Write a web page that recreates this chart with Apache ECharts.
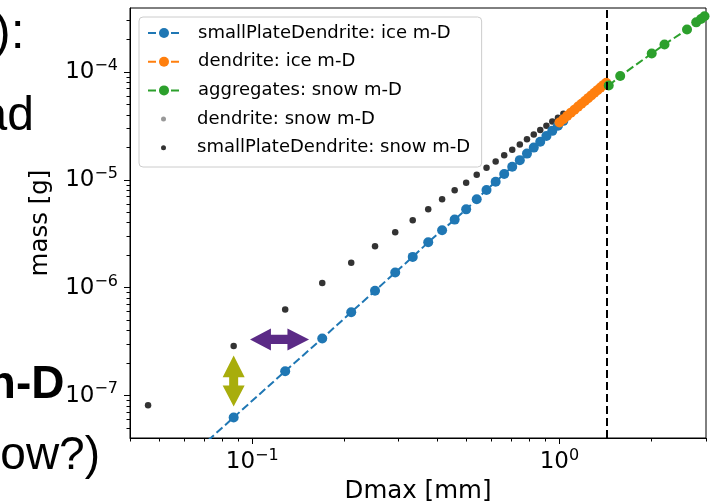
<!DOCTYPE html>
<html>
<head>
<meta charset="utf-8">
<title>m-D</title>
<script src="https://cdn.jsdelivr.net/npm/echarts@6.0.0/dist/echarts.min.js"></script>
<style>
  html, body { margin: 0; padding: 0; background: #fff; }
  #main { width: 712px; height: 502px; background: #fff; }
</style>
</head>
<body>
<div id="main"></div>
<script>
// Dmax [mm] grid shared by the smallPlateDendrite curves
var dGrid = [0.0458, 0.087, 0.128, 0.169, 0.210, 0.251, 0.292, 0.333, 0.374, 0.415, 0.456, 0.497, 0.538,
             0.579, 0.620, 0.661, 0.702, 0.743, 0.784, 0.825, 0.866, 0.907, 0.948, 0.989, 1.030];
// mass [g]
var spdIceMass = [1.22e-8, 6.3e-8, 1.69e-7, 3.4e-7, 5.96e-7, 9.4e-7, 1.39e-6, 1.94e-6, 2.65e-6, 3.42e-6, 4.3e-6,
                  5.35e-6, 6.63e-6, 8.1e-6, 9.65e-6, 1.14e-5, 1.33e-5, 1.53e-5, 1.76e-5, 2.0e-5, 2.27e-5,
                  2.56e-5, 2.86e-5, 3.19e-5, 3.54e-5];
var spdSnowMass = [8.15e-8, 2.9e-7, 6.31e-7, 1.11e-6, 1.71e-6, 2.43e-6, 3.28e-6, 4.24e-6, 5.35e-6, 6.63e-6, 8.03e-6,
                   9.46e-6, 1.12e-5, 1.3e-5, 1.49e-5, 1.7e-5, 1.91e-5, 2.14e-5, 2.39e-5, 2.64e-5, 2.91e-5,
                   3.19e-5, 3.49e-5, 3.79e-5, 4.12e-5];

var dendIceD = [1.00, 1.03, 1.06, 1.09, 1.12, 1.15, 1.18, 1.21, 1.24, 1.27, 1.30, 1.33, 1.36, 1.39, 1.42];
var dendIceMass = [3.42e-5, 3.67e-5, 3.94e-5, 4.22e-5, 4.50e-5, 4.80e-5, 5.11e-5, 5.42e-5, 5.75e-5, 6.10e-5,
                   6.45e-5, 6.82e-5, 7.20e-5, 7.59e-5, 7.98e-5];

var dendSnowD = [1.05, 1.07, 1.09, 1.11, 1.13, 1.15, 1.17, 1.19, 1.21, 1.23, 1.25, 1.27, 1.29, 1.31, 1.33,
                 1.35, 1.37, 1.39, 1.41, 1.43];
var dendSnowMass = [3.97e-5, 4.13e-5, 4.30e-5, 4.47e-5, 4.64e-5, 4.82e-5, 5.00e-5, 5.18e-5, 5.37e-5, 5.56e-5,
                    5.75e-5, 5.94e-5, 6.14e-5, 6.35e-5, 6.56e-5, 6.76e-5, 6.98e-5, 7.20e-5, 7.42e-5, 7.64e-5];

var aggD = [1.447, 1.577, 1.997, 2.198, 2.602, 2.788, 2.89, 2.967];
var aggMass = [7.53e-5, 9.22e-5, 1.49e-4, 1.81e-4, 2.49e-4, 2.90e-4, 3.12e-4, 3.31e-4];

var seriesNames = ['smallPlateDendrite: ice m-D', 'dendrite: ice m-D', 'aggregates: snow m-D',
                   'dendrite: snow m-D', 'smallPlateDendrite: snow m-D'];

var xMajorTicks = [0.1, 1];
var xMinorTicks = [0.04, 0.05, 0.06, 0.07, 0.08, 0.09, 0.2, 0.3, 0.4, 0.5, 0.6, 0.7, 0.8, 0.9, 2, 3];
var yMajorTicks = [1e-7, 1e-6, 1e-5, 1e-4];
var yMinorTicks = [5e-8, 6e-8, 7e-8, 8e-8, 9e-8,
                   2e-7, 3e-7, 4e-7, 5e-7, 6e-7, 7e-7, 8e-7, 9e-7,
                   2e-6, 3e-6, 4e-6, 5e-6, 6e-6, 7e-6, 8e-6, 9e-6,
                   2e-5, 3e-5, 4e-5, 5e-5, 6e-5, 7e-5, 8e-5, 9e-5,
                   2e-4, 3e-4];

var dCut = 1.43;   // vertical dashed line

var X_MIN = 0.04, X_MAX = 3;
var Y_MIN = 4.06e-8, Y_MAX = 3.94e-4;

function zip(xs, ys) {
    var out = [];
    for (var i = 0; i < xs.length; i++) out.push([xs[i], ys[i]]);
    return out;
}

// 10^n labels
function powLabel(v) {
    var e = Math.log(v) / Math.LN10;
    var r = Math.round(e);
    if (Math.abs(e - r) > 1e-6) return '';
    return '{b|10}{s|' + (r < 0 ? '\u2212' + (-r) : r) + '}';
}

function labelRich() {
    return {
        b: { fontFamily: 'DejaVu Sans', fontSize: 23, lineHeight: 29, color: '#000' },
        s: { fontFamily: 'DejaVu Sans', fontSize: 16, lineHeight: 16, verticalAlign: 'top', color: '#000' }
    };
}

var arrowV = 'path://M11,0 L22,21.6 L15.5,21.6 L15.5,30 L22,30 L11,51 L0,30 L6.5,30 L6.5,21.6 L0,21.6 Z';
var arrowH = 'path://M0,10.85 L21,0 L21,6.35 L37.6,6.35 L37.6,0 L59.3,10.85 L37.6,21.7 L37.6,15.35 L21,15.35 L21,21.7 Z';

function legendText(padLeft) {
    return {
        fontFamily: 'DejaVu Sans',
        fontSize: 18,
        lineHeight: 20,
        color: '#000',
        padding: [0, 0, 0, padLeft]
    };
}

// cut-off slide text on the left
function slideText(text, x, y, font, align) {
    return { type: 'text', x: x, y: y, style: { text: text, font: font, fill: '#000', align: align, verticalAlign: 'middle' } };
}

var chart = echarts.init(document.getElementById('main'));
var option = {
    animation: false,
    grid: {
        left: 130, right: 6, top: 8, bottom: 64,
        outerBoundsMode: 'none',
        show: true, borderColor: '#000', borderWidth: 1
    },
    xAxis: {
        type: 'log',
        min: X_MIN, max: X_MAX,
        name: 'Dmax [mm]',
        nameLocation: 'middle',
        nameGap: 41,
        nameTextStyle: { fontFamily: 'DejaVu Sans', fontSize: 24.5, color: '#000' },
        axisLine: { lineStyle: { color: '#000', width: 1 } },
        axisTick: { show: false },
        splitLine: { show: false },
        axisLabel: { margin: 10, formatter: powLabel, rich: labelRich() }
    },
    yAxis: {
        type: 'log',
        min: Y_MIN, max: Y_MAX,
        name: 'mass [g]',
        nameLocation: 'middle',
        nameRotate: 90,
        nameGap: 77,
        nameTextStyle: { fontFamily: 'DejaVu Sans', fontSize: 24.5, color: '#000' },
        axisLine: { lineStyle: { color: '#000', width: 1 } },
        axisTick: { show: false },
        splitLine: { show: false },
        axisLabel: { margin: 12, formatter: powLabel, rich: labelRich() }
    },
    legend: [
        {
            orient: 'vertical',
            left: 139, top: 17,
            padding: [6, 31, 66.6, 8],
            itemWidth: 32, itemHeight: 12.5, itemGap: 8.7,
            selectedMode: false,
            backgroundColor: 'rgba(255,255,255,0.8)',
            borderColor: '#cccccc', borderWidth: 1, borderRadius: 4,
            textStyle: legendText(13),
            data: [seriesNames[0], seriesNames[1], seriesNames[2]]
        },
        {
            orient: 'vertical',
            left: 139, top: 109.1,
            padding: [0, 0, 0, 22],
            itemWidth: 5, itemHeight: 5, itemGap: 8.7,
            selectedMode: false,
            textStyle: legendText(26),
            data: [seriesNames[3], seriesNames[4]]
        }
    ],
    series: [
        {
            name: seriesNames[0], type: 'line',
            data: zip(dGrid, spdIceMass),
            symbol: 'circle', symbolSize: 10,
            itemStyle: { color: '#1f77b4' },
            lineStyle: { color: '#1f77b4', width: 2, type: [8, 3.5] }
        },
        {
            name: seriesNames[1], type: 'line',
            data: zip(dendIceD, dendIceMass),
            symbol: 'circle', symbolSize: 10,
            itemStyle: { color: '#ff7f0e' },
            lineStyle: { color: '#ff7f0e', width: 2, type: [8, 3.5] }
        },
        {
            name: seriesNames[2], type: 'line',
            data: zip(aggD, aggMass),
            symbol: 'circle', symbolSize: 10,
            itemStyle: { color: '#2ca02c' },
            lineStyle: { color: '#2ca02c', width: 2, type: [8, 3.5] }
        },
        {
            name: seriesNames[3], type: 'scatter',
            data: zip(dendSnowD, dendSnowMass),
            symbol: 'circle', symbolSize: 4.5,
            itemStyle: { color: '#808080' }
        },
        {
            name: seriesNames[4], type: 'scatter',
            data: zip(dGrid, spdSnowMass),
            symbol: 'circle', symbolSize: 6.5,
            itemStyle: { color: '#000' },
            markLine: {
                silent: true, symbol: 'none',
                label: { show: false },
                lineStyle: { color: '#000', width: 2, type: [8, 4] },
                data: [{ xAxis: dCut }]
            },
            markPoint: {
                silent: true,
                label: { show: false },
                data: [
                    { coord: [0.087, 1.37e-7], symbol: arrowV, symbolSize: [22, 51], itemStyle: { color: '#a8ad0c' } },
                    { coord: [0.1227, 3.33e-7], symbol: arrowH, symbolSize: [59, 22], itemStyle: { color: '#5b2a86' } }
                ]
            }
        }
    ]
};
try { chart.setOption(option); } catch (e) { console.error(e); }

// matplotlib style outward ticks (major + minor), placed with the axes' own scale
var elements = [
    slideText('):', -6, 34.5, '50px "Liberation Sans"', 'left'),
    slideText('ad', 34, 117, '48px "Liberation Sans"', 'right'),
    slideText('n-D', 64.5, 385.7, 'bold 46px "Liberation Sans"', 'right'),
    slideText('ow?)', 100, 456, '46px "Liberation Sans"', 'right')
];
function addTicks(values, len, dir) {
    values.forEach(function (v) {
        var p = chart.convertToPixel({ gridIndex: 0 }, dir === 'x' ? [v, Y_MIN] : [X_MIN, v]);
        if (!p) return;
        var shape;
        if (dir === 'x') {
            var x = Math.round(p[0] - 0.5) + 0.5;
            shape = { x1: x, y1: p[1], x2: x, y2: p[1] + len };
        } else {
            var y = Math.round(p[1] - 0.5) + 0.5;
            shape = { x1: p[0], y1: y, x2: p[0] - len, y2: y };
        }
        elements.push({ type: 'line', shape: shape, style: { stroke: '#000', lineWidth: 1 } });
    });
}
try {
    addTicks(xMajorTicks, 6, 'x');
    addTicks(xMinorTicks, 3.5, 'x');
    addTicks(yMajorTicks, 6, 'y');
    addTicks(yMinorTicks, 3.5, 'y');
} catch (e) { console.error(e); }

chart.setOption({ graphic: elements });
</script>
</body>
</html>
